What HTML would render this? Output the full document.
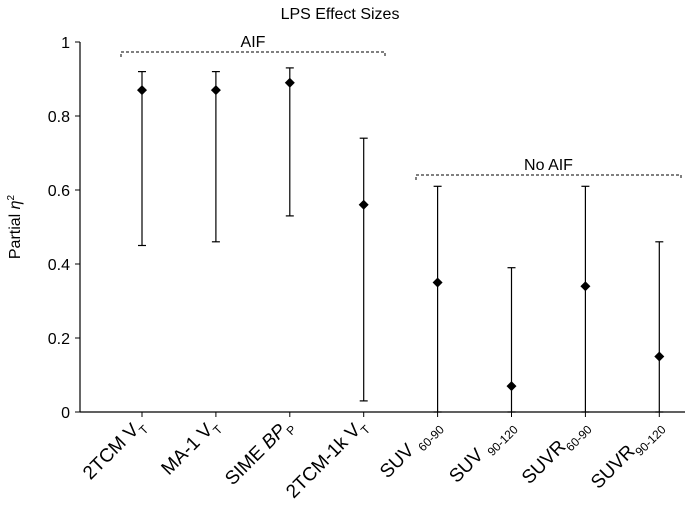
<!DOCTYPE html>
<html><head><meta charset="utf-8"><style>
body{margin:0;background:#fff;}
svg{display:block;font-family:"Liberation Sans",Arial,sans-serif;}
</style></head><body>
<svg id="chart" width="685" height="509">
<text x="340" y="19" text-anchor="middle" font-size="16">LPS Effect Sizes</text>
<g id="axes"></g>
<g id="marks"></g>
<g id="brackets"></g>
</svg>
<script>
const categories=["2TCM V|T","MA-1 V|T","SIME BP|P","2TCM-1k V|T","SUV |60-90","SUV |90-120","SUVR|60-90","SUVR|90-120"];
const means=[0.87,0.87,0.89,0.56,0.35,0.07,0.34,0.15];
const lowers=[0.45,0.46,0.53,0.03,0,0,0,0];
const uppers=[0.92,0.92,0.93,0.74,0.61,0.39,0.61,0.46];
const yTicks=[0,0.2,0.4,0.6,0.8,1];
const NS="http://www.w3.org/2000/svg";
const x0=80,x1=685,yBase=412,yTop=42;
const xS=i=>142+i*73.9;
const yS=v=>yBase-v*(yBase-yTop);
function mk(tag,attrs,parent){const e=document.createElementNS(NS,tag);for(const k in attrs)e.setAttribute(k,attrs[k]);parent.appendChild(e);return e;}
const axes=document.getElementById('axes'),marks=document.getElementById('marks'),br=document.getElementById('brackets');
let a=mk('line',{x1:x0,y1:yTop,x2:x0,y2:yBase,stroke:'#000','stroke-width':1.2},axes);

a=mk('line',{x1:x0,y1:yBase,x2:x1,y2:yBase,stroke:'#000','stroke-width':1.2},axes);

yTicks.forEach(v=>{
  const t=mk('line',{x1:x0-5,y1:yS(v),x2:x0,y2:yS(v),stroke:'#000'},axes);
  
  const l=mk('text',{x:x0-10,y:yS(v)+6,'text-anchor':'end','font-size':16},axes);
  l.textContent=String(v);
  
});
const yt=mk('text',{transform:'translate(20,227) rotate(-90)','text-anchor':'middle','font-size':16},axes);
yt.innerHTML='Partial <tspan font-style="italic">η</tspan><tspan dy="-6" font-size="10">2</tspan>';

categories.forEach((c,i)=>{
  const x=xS(i);
  const t=mk('line',{x1:x,y1:yBase,x2:x,y2:yBase+5,stroke:'#000'},axes);
  
  const [main,sub]=c.split('|');
  const l=mk('text',{transform:`translate(${x+3},${yBase+14}) rotate(-45)`,'text-anchor':'end','font-size':19},axes);
  const italic=main.includes('BP');
  l.innerHTML=(italic?main.replace('BP','<tspan font-style="italic">BP</tspan>'):main)+`<tspan dy="6" font-size="12">${sub}</tspan>`;
  
  const e=mk('line',{x1:x,y1:yS(uppers[i]),x2:x,y2:yS(lowers[i]),stroke:'#000','stroke-width':1.2},marks);
  
  [uppers[i],lowers[i]].forEach(v=>{const cp=mk('line',{x1:x-4,y1:yS(v),x2:x+4,y2:yS(v),stroke:'#000','stroke-width':1.2},marks);
    });
  const y=yS(means[i]);
  const d=mk('polygon',{points:`${x},${y-5} ${x+5},${y} ${x},${y+5} ${x-5},${y}`,fill:'#000'},marks);
  
});
function bracket(xa,xb,y,label,name){
  const p=mk('path',{d:`M${xa},${y+5}V${y}H${xb}V${y+5}`,fill:'none',stroke:'#000','stroke-dasharray':'3,2'},br);
  
  const t=mk('text',{x:(xa+xb)/2,y:y-5,'text-anchor':'middle','font-size':16},br);
  t.textContent=label;
}
bracket(121,385,52,'AIF','aif');
bracket(416,681,175,'No AIF','no-aif');
</script>
</body></html>
